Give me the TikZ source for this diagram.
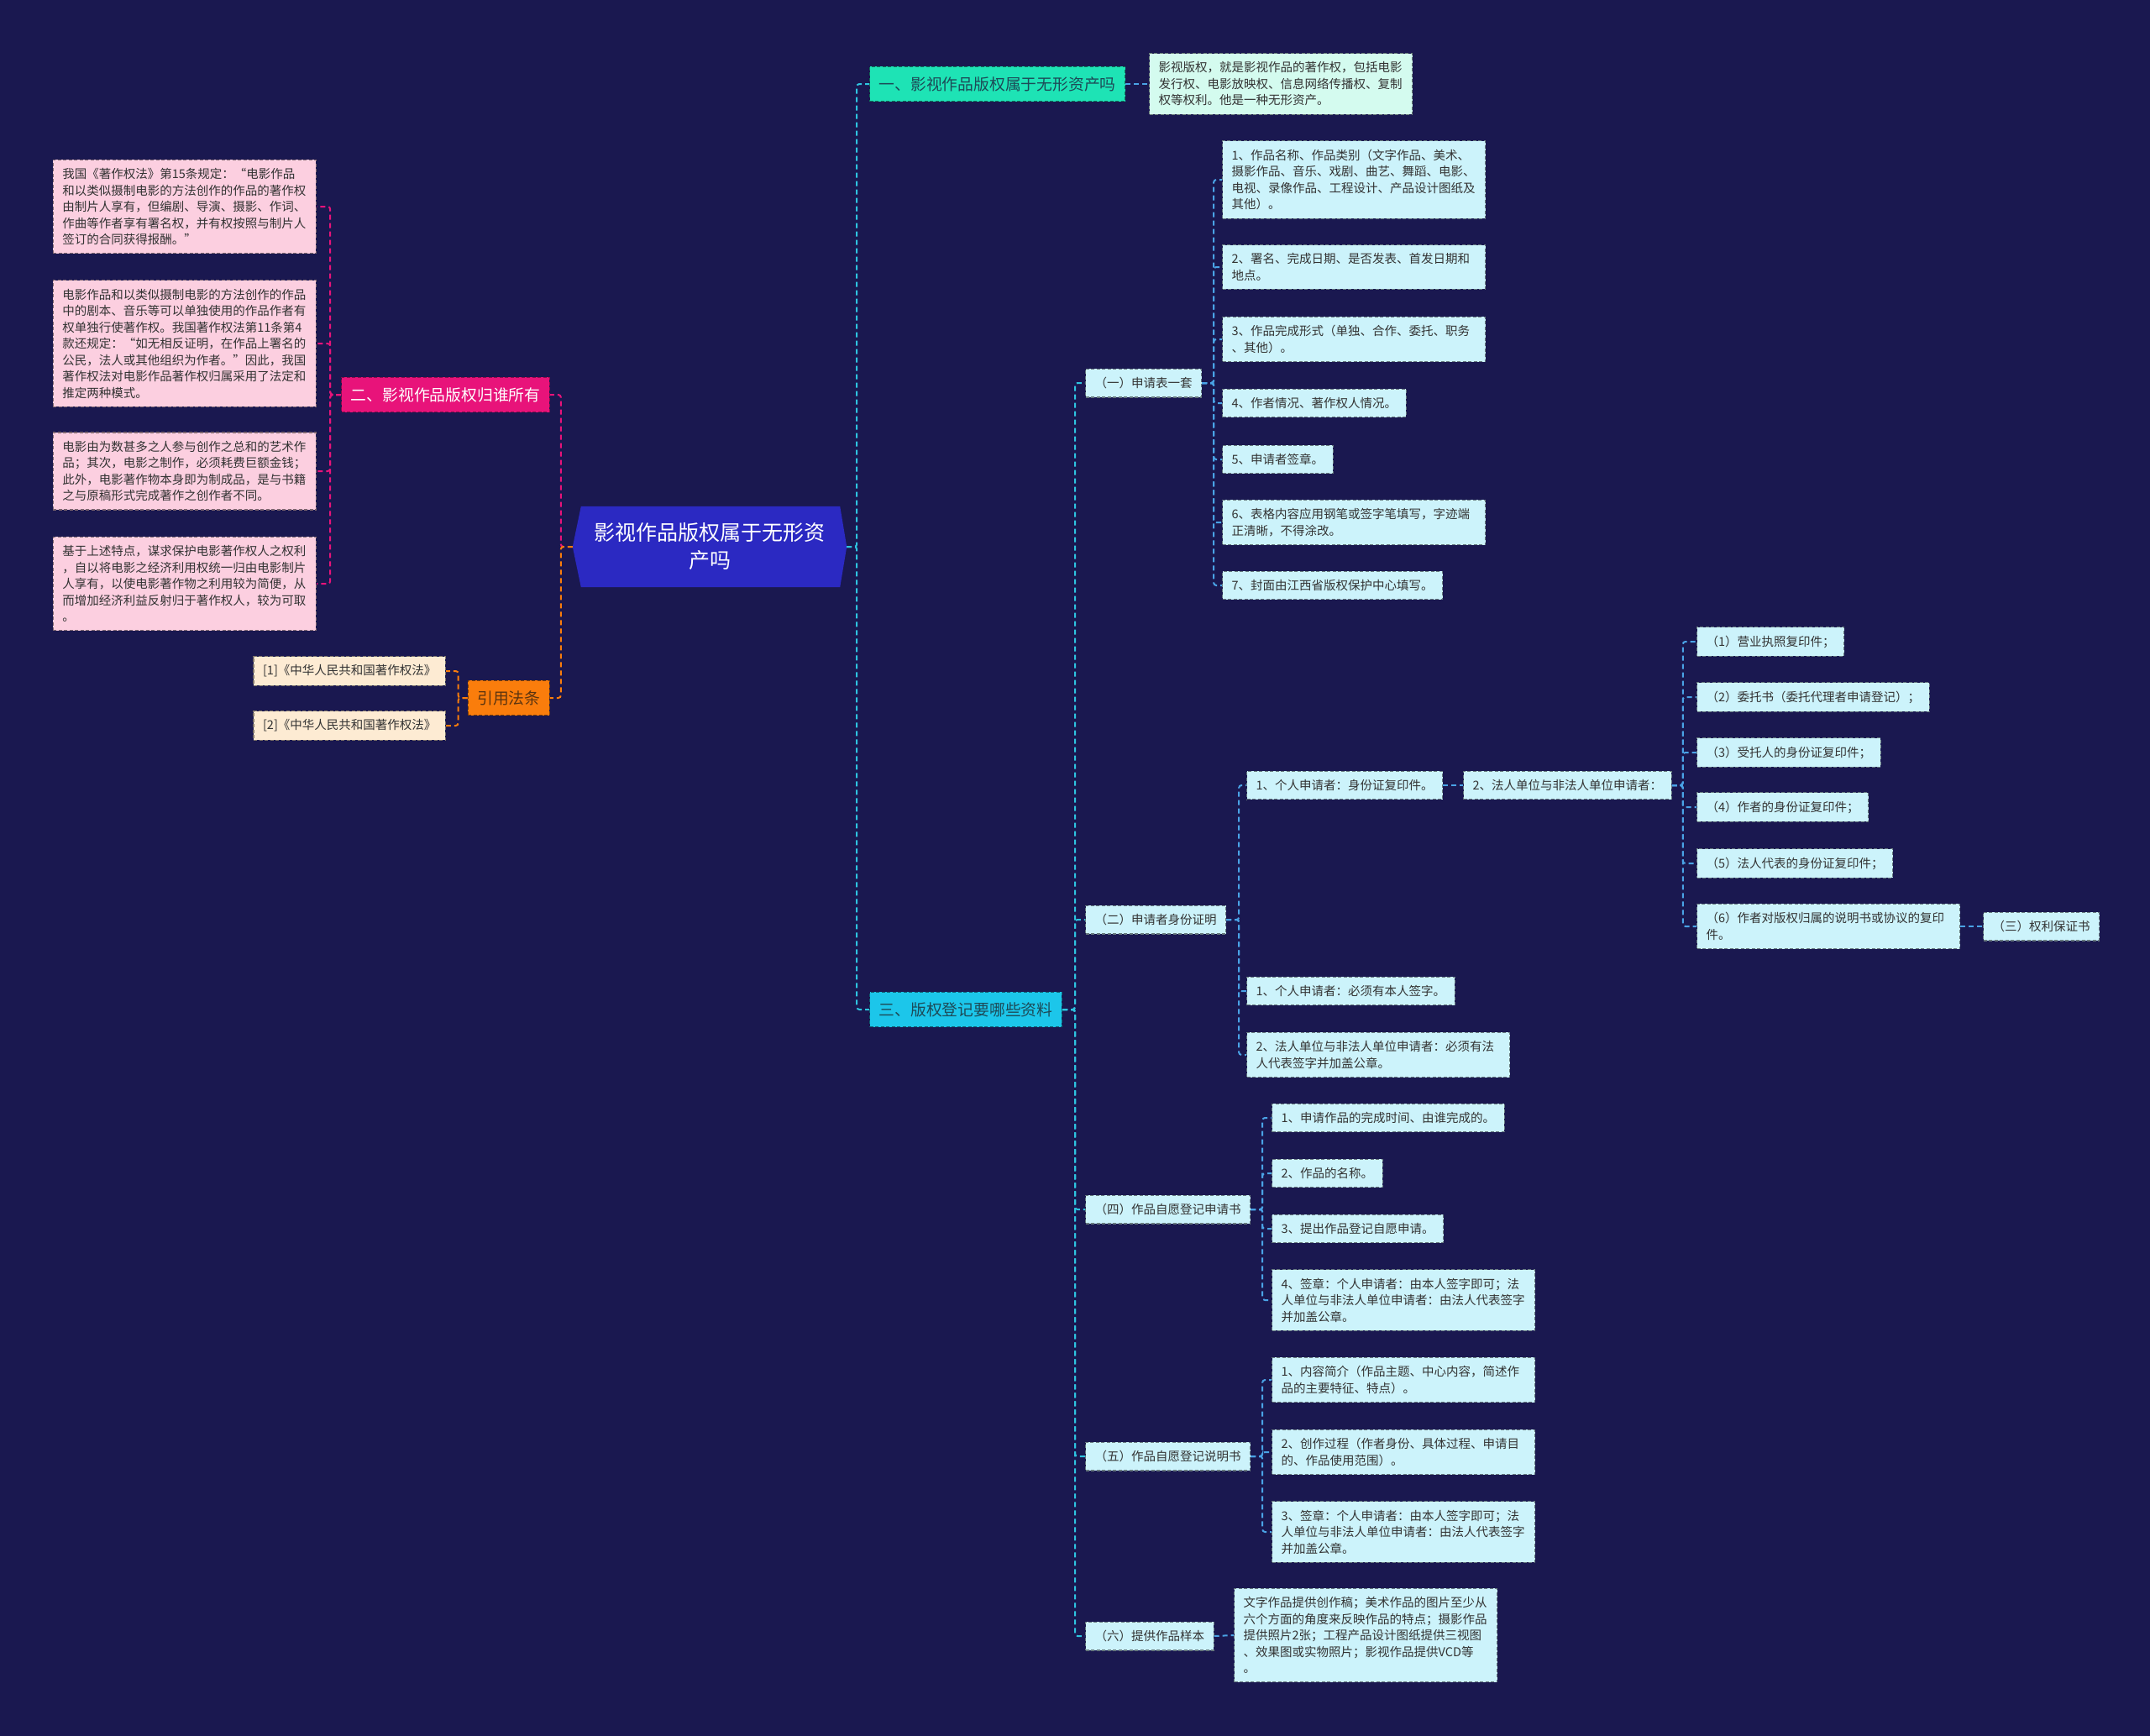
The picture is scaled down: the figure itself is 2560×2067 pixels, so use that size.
\documentclass[tikz,border=0pt]{standalone}
\usepackage{fontspec}
\setmainfont{Noto Sans CJK SC}
\pgfdeclarelayer{bg}
\pgfsetlayers{bg,main}
\definecolor{bgc}{HTML}{1A1850}
\definecolor{rootfill}{HTML}{2B29C2}
\definecolor{pinkmain}{HTML}{E8137A}
\definecolor{pinkfill}{HTML}{FCCFE0}
\definecolor{orangemain}{HTML}{FA7D0C}
\definecolor{reffill}{HTML}{FDEBD3}
\definecolor{mintmain}{HTML}{1EE3B5}
\definecolor{mintfill}{HTML}{D4FBEF}
\definecolor{cyanmain}{HTML}{1CC6EA}
\definecolor{cyanfill}{HTML}{CCF3FB}
\definecolor{txt}{HTML}{333333}
\definecolor{topictxt}{HTML}{1D4A57}
\definecolor{lawtxt}{HTML}{5B3410}
\definecolor{cyanline}{HTML}{2EC4E0}
\definecolor{blueline}{HTML}{4AA3E6}
\tikzset{
  box/.style={draw, dash pattern=on 4pt off 2.5pt, line width=1.2pt,
    inner xsep=11pt, inner ysep=10pt, font=\fontsize{14.5}{19.5}\selectfont,
    align=left, text=txt},
  wide/.style={text width=291pt},
  cyanleaf/.style={box, fill=cyanfill, draw=cyanfill!50!black},
  pinkleaf/.style={box, fill=pinkfill, draw=pinkfill!50!black},
  refleaf/.style={box, fill=reffill, draw=reffill!50!black},
  mintleaf/.style={box, fill=mintfill, draw=mintfill!50!black},
  topic/.style={draw, dash pattern=on 4pt off 2.5pt, line width=1.2pt,
    inner xsep=11pt, inner ysep=12pt, font=\fontsize{18.8}{24}\selectfont},
  conn/.style={dash pattern=on 6pt off 4pt, line width=2pt, rounded corners=3pt},
}
\begin{document}
\begin{tikzpicture}[x=1pt,y=-1pt]
\begin{pgfonlayer}{bg}
\fill[bgc] (0,0) rectangle (2560,2067);
\end{pgfonlayer}
\useasboundingbox (0,0) rectangle (2560,2067);

% root
\node[minimum width=326pt, minimum height=96pt, align=center, text=white,
  font=\fontsize{25}{33}\selectfont] (root) at (845,651)
  {影视作品版权属于无形资\\产吗};
\begin{pgfonlayer}{bg}
\fill[rootfill] (root.west) -- ([xshift=10pt]root.north west) -- ([xshift=-8pt]root.north east)
  -- (root.east) -- ([xshift=-8pt]root.south east) -- ([xshift=10pt]root.south west) -- cycle;
\end{pgfonlayer}

% left side
\node[topic, fill=pinkmain, draw=pinkmain!60!black, text=white, anchor=east] (two) at (655,470) {二、影视作品版权归谁所有};
\node[topic, fill=orangemain, draw=orangemain!50!black, text=lawtxt, anchor=east] (law) at (655,831) {引用法条};

\node[pinkleaf, wide, anchor=east] (p1) at (377,246) {我国《著作权法》第15条规定：“电影作品\\和以类似摄制电影的方法创作的作品的著作权\\由制片人享有，但编剧、导演、摄影、作词、\\作曲等作者享有署名权，并有权按照与制片人\\签订的合同获得报酬。”};
\node[pinkleaf, wide, anchor=east] (p2) at (377,409) {电影作品和以类似摄制电影的方法创作的作品\\中的剧本、音乐等可以单独使用的作品作者有\\权单独行使著作权。我国著作权法第11条第4\\款还规定：“如无相反证明，在作品上署名的\\公民，法人或其他组织为作者。”因此，我国\\著作权法对电影作品著作权归属采用了法定和\\推定两种模式。};
\node[pinkleaf, wide, anchor=east] (p3) at (377,561) {电影由为数甚多之人参与创作之总和的艺术作\\品；其次，电影之制作，必须耗费巨额金钱；\\此外，电影著作物本身即为制成品，是与书籍\\之与原稿形式完成著作之创作者不同。};
\node[pinkleaf, wide, anchor=east] (p4) at (377,695) {基于上述特点，谋求保护电影著作权人之权利\\，自以将电影之经济利用权统一归由电影制片\\人享有，以使电影著作物之利用较为简便，从\\而增加经济利益反射归于著作权人，较为可取\\。};

\node[refleaf, anchor=east] (r1) at (531,799) {[1]《中华人民共和国著作权法》};
\node[refleaf, anchor=east] (r2) at (531,864) {[2]《中华人民共和国著作权法》};

% right side level 1
\node[topic, fill=mintmain, draw=mintmain!50!black, text=topictxt, anchor=west] (one) at (1035,100) {一、影视作品版权属于无形资产吗};
\node[mintleaf, wide, anchor=west] (onedet) at (1368,100) {影视版权，就是影视作品的著作权，包括电影\\发行权、电影放映权、信息网络传播权、复制\\权等权利。他是一种无形资产。};
\node[topic, fill=cyanmain, draw=cyanmain!50!black, text=topictxt, anchor=west] (three) at (1035,1202) {三、版权登记要哪些资料};

% level 2
\node[cyanleaf, anchor=west] (s1) at (1292,456) {（一）申请表一套};
\node[cyanleaf, anchor=west] (s2) at (1292,1095) {（二）申请者身份证明};
\node[cyanleaf, anchor=west] (s4) at (1292,1440) {（四）作品自愿登记申请书};
\node[cyanleaf, anchor=west] (s5) at (1292,1734) {（五）作品自愿登记说明书};
\node[cyanleaf, anchor=west] (s6) at (1292,1948) {（六）提供作品样本};

% (一) children
\node[cyanleaf, wide, anchor=west] (a1) at (1455,214) {1、作品名称、作品类别（文字作品、美术、\\摄影作品、音乐、戏剧、曲艺、舞蹈、电影、\\电视、录像作品、工程设计、产品设计图纸及\\其他）。};
\node[cyanleaf, wide, anchor=west] (a2) at (1455,318) {2、署名、完成日期、是否发表、首发日期和\\地点。};
\node[cyanleaf, wide, anchor=west] (a3) at (1455,404) {3、作品完成形式（单独、合作、委托、职务\\、其他）。};
\node[cyanleaf, anchor=west] (a4) at (1455,480) {4、作者情况、著作权人情况。};
\node[cyanleaf, anchor=west] (a5) at (1455,547) {5、申请者签章。};
\node[cyanleaf, wide, anchor=west] (a6) at (1455,622) {6、表格内容应用钢笔或签字笔填写，字迹端\\正清晰，不得涂改。};
\node[cyanleaf, anchor=west] (a7) at (1455,697) {7、封面由江西省版权保护中心填写。};

% (二) children
\node[cyanleaf, anchor=west] (b1) at (1484,935) {1、个人申请者：身份证复印件。};
\node[cyanleaf, anchor=west] (b2) at (1742,935) {2、法人单位与非法人单位申请者：};
\node[cyanleaf, anchor=west] (b3) at (1484,1180) {1、个人申请者：必须有本人签字。};
\node[cyanleaf, wide, anchor=west] (b4) at (1484,1256) {2、法人单位与非法人单位申请者：必须有法\\人代表签字并加盖公章。};

\node[cyanleaf, anchor=west] (c1) at (2020,764) {（1）营业执照复印件；};
\node[cyanleaf, anchor=west] (c2) at (2020,830) {（2）委托书（委托代理者申请登记）；};
\node[cyanleaf, anchor=west] (c3) at (2020,896) {（3）受托人的身份证复印件；};
\node[cyanleaf, anchor=west] (c4) at (2020,961) {（4）作者的身份证复印件；};
\node[cyanleaf, anchor=west] (c5) at (2020,1028) {（5）法人代表的身份证复印件；};
\node[cyanleaf, wide, anchor=west] (c6) at (2020,1103) {（6）作者对版权归属的说明书或协议的复印\\件。};
\node[cyanleaf, anchor=west] (c7) at (2361,1103) {（三）权利保证书};

% (四) children
\node[cyanleaf, anchor=west] (d1) at (1514,1331) {1、申请作品的完成时间、由谁完成的。};
\node[cyanleaf, anchor=west] (d2) at (1514,1397) {2、作品的名称。};
\node[cyanleaf, anchor=west] (d3) at (1514,1463) {3、提出作品登记自愿申请。};
\node[cyanleaf, wide, anchor=west] (d4) at (1514,1548) {4、签章：个人申请者：由本人签字即可；法\\人单位与非法人单位申请者：由法人代表签字\\并加盖公章。};

% (五) children
\node[cyanleaf, wide, anchor=west] (e1) at (1514,1643) {1、内容简介（作品主题、中心内容，简述作\\品的主要特征、特点）。};
\node[cyanleaf, wide, anchor=west] (e2) at (1514,1729) {2、创作过程（作者身份、具体过程、申请目\\的、作品使用范围）。};
\node[cyanleaf, wide, anchor=west] (e3) at (1514,1824) {3、签章：个人申请者：由本人签字即可；法\\人单位与非法人单位申请者：由法人代表签字\\并加盖公章。};

% (六) child
\node[cyanleaf, wide, anchor=west] (f1) at (1469,1947) {文字作品提供创作稿；美术作品的图片至少从\\六个方面的角度来反映作品的特点；摄影作品\\提供照片2张；工程产品设计图纸提供三视图\\、效果图或实物照片；影视作品提供VCD等\\。};

% connectors
\begin{pgfonlayer}{bg}
\draw[conn, pinkmain] (root.west) -- ++(-14,0) |- (two.east);
\draw[conn, orangemain] (root.west) -- ++(-14,0) |- (law.east);
\foreach \n in {p1,p2,p3,p4} \draw[conn, pinkmain] (two.west) -- ++(-13,0) |- (\n.east);
\foreach \n in {r1,r2} \draw[conn, orangemain] (law.west) -- ++(-11,0) |- (\n.east);

\draw[conn, cyanline] (root.east) -- ++(12,0) |- (one.west);
\draw[conn, cyanline] (root.east) -- ++(12,0) |- (three.west);
\draw[conn, blueline] (one.east) -- (onedet.west);
\foreach \n in {s1,s2,s4,s5,s6} \draw[conn, cyanline] (three.east) -- ++(15,0) |- (\n.west);
\foreach \n in {a1,a2,a3,a4,a5,a6,a7} \draw[conn, blueline] (s1.east) -- ++(14,0) |- (\n.west);
\foreach \n in {b1,b3,b4} \draw[conn, blueline] (s2.east) -- ++(15,0) |- (\n.west);
\draw[conn, blueline] (b1.east) -- (b2.west);
\foreach \n in {c1,c2,c3,c4,c5,c6} \draw[conn, blueline] (b2.east) -- ++(13,0) |- (\n.west);
\draw[conn, blueline] (c6.east) -- (c7.west);
\foreach \n in {d1,d2,d3,d4} \draw[conn, blueline] (s4.east) -- ++(14,0) |- (\n.west);
\foreach \n in {e1,e2,e3} \draw[conn, blueline] (s5.east) -- ++(14,0) |- (\n.west);
\draw[conn, blueline] (s6.east) -- (f1.west);
\end{pgfonlayer}
\end{tikzpicture}
\end{document}
